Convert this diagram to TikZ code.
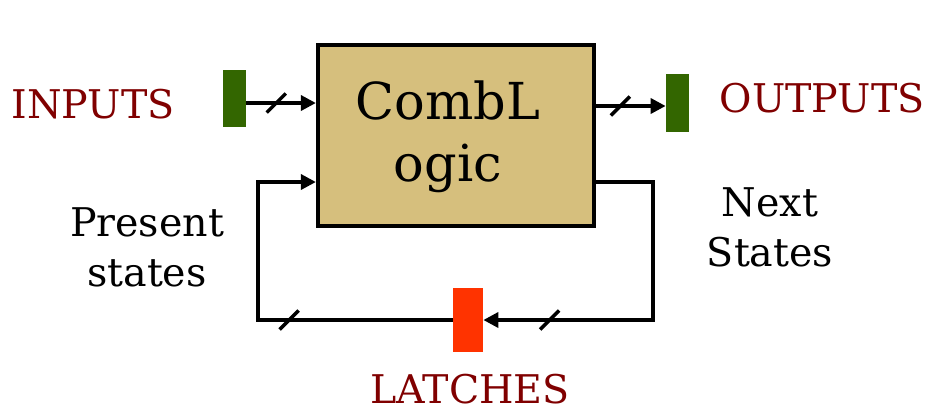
\documentclass[tikz,border=0pt]{standalone}
\usepackage{fontspec}
\setmainfont{DejaVu Serif}
\usepackage{xcolor}
\usepackage{tikz}
\usetikzlibrary{arrows.meta, positioning}
\definecolor{combtan}{HTML}{D6BF7D}
\definecolor{bargreen}{HTML}{336600}
\definecolor{latchred}{HTML}{FF3300}
\definecolor{lbldark}{HTML}{800000}
\begin{document}
\begin{tikzpicture}[x=0.2mm, y=-0.2mm, >={Triangle[length=3mm, width=3mm]},
  wire/.style={line width=2pt},
  slash/.style={line width=2pt},
  logicbox/.style={draw, line width=2.4pt, fill=combtan, minimum width=55.2mm, minimum height=36.2mm, inner sep=0pt},
  bar/.style={fill=bargreen, minimum width=4.6mm, minimum height=11.5mm, inner sep=0pt},
  latchbar/.style={fill=latchred, minimum width=6mm, minimum height=12.8mm, inner sep=0pt},
  lbl/.style={font=\fontsize{22.5}{28.5}\selectfont, align=center, inner sep=0pt},
  iolbl/.style={lbl, text=lbldark}]
\useasboundingbox (0,0) rectangle (928,410);
\node[logicbox] (logic) at (456,135.5) {};
\node[font=\fontsize{29}{35}\selectfont, align=center, inner sep=0pt] (logictext) at (448,137) {CombL\\ogic};
\node[bar] (inbar) at (234.5,98.5) {};
\node[bar] (outbar) at (677.5,103) {};
\node[latchbar] (latch) at (468,320) {};
\coordinate (rcorner) at (653,320);
\coordinate (lcorner) at (258,320);
% labels
\node[iolbl, anchor=base] (inputs) at (93,118) {INPUTS};
\node[iolbl, anchor=base] (outputs) at (822,112) {OUTPUTS};
\node[iolbl, anchor=base] (latches) at (470,403) {LATCHES};
\node[lbl] (present) at (147,247) {Present\\states};
\node[lbl] (next) at (770,227.5) {Next\\States};
% connectors
\draw[wire, ->] ([yshift=-0.9mm]inbar.east) -- coordinate[pos=0.43] (s1) ([yshift=-0.9mm]inbar.east -| logic.west);
\draw[wire, ->] ([yshift=-0.6mm]outbar.west -| logic.east) -- coordinate[pos=0.35] (s2) ([yshift=-0.6mm]outbar.west);
\draw[wire, ->] ([yshift=-9.3mm]logic.east) -| (rcorner) -- coordinate[pos=0.61] (s3) (latch.east);
\draw[wire, ->] (latch.west) -- coordinate[pos=0.84] (s4) (lcorner) |- ([yshift=-9.3mm]logic.west);
% bus marks
\foreach \s in {s1, s2, s3, s4}
  \draw[slash] (\s) +(-1.9mm,-1.9mm) -- +(1.9mm,1.9mm);
\end{tikzpicture}
\end{document}
